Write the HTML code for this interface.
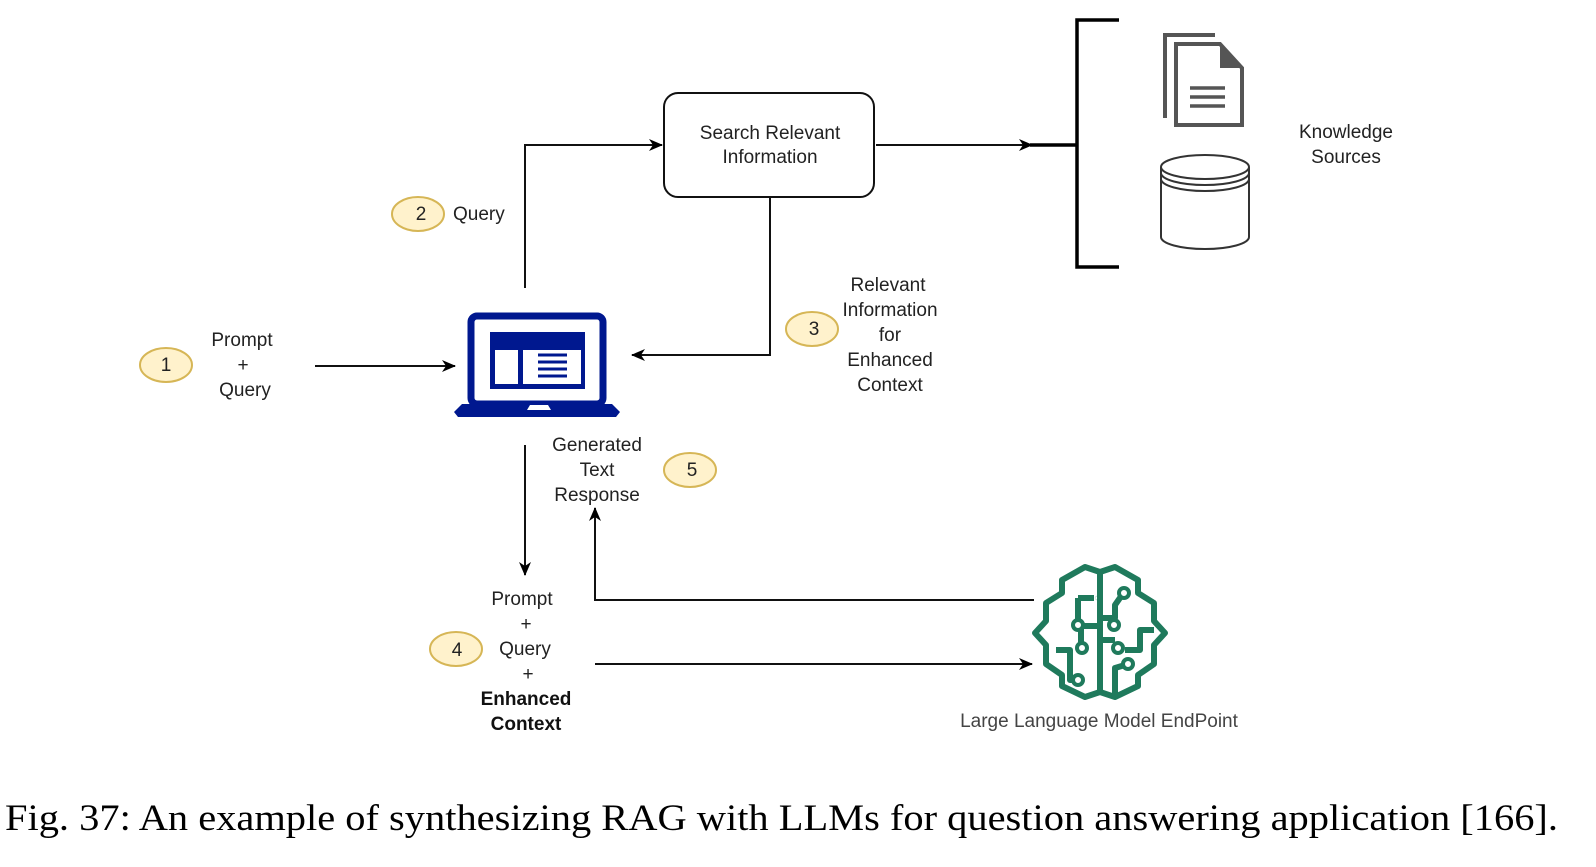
<!DOCTYPE html>
<html><head><meta charset="utf-8"><style>
html,body{margin:0;padding:0;background:#fff;}
svg{display:block;}
text{font-family:"Liberation Sans",Arial,sans-serif;font-size:19px;fill:#222;}
</style></head><body>
<svg width="1596" height="867" viewBox="0 0 1596 867" xmlns="http://www.w3.org/2000/svg">
<defs>
<marker id="ar" markerWidth="14" markerHeight="12" refX="13" refY="6" orient="auto" markerUnits="userSpaceOnUse">
<path d="M0,0 L14,6 L0,12 L4,6 z" fill="#000"/>
</marker>
</defs>
<g stroke="#111" stroke-width="2" fill="none">
<line x1="315" y1="366" x2="455" y2="366" marker-end="url(#ar)"/>
<polyline points="525,288 525,145 662,145" marker-end="url(#ar)"/>
<line x1="876" y1="145" x2="1032" y2="145" marker-end="url(#ar)"/>
<polyline points="770,198 770,355 632,355" marker-end="url(#ar)"/>
<line x1="525" y1="445" x2="525" y2="575" marker-end="url(#ar)"/>
<polyline points="1034,600 595,600 595,508" marker-end="url(#ar)"/>
<line x1="595" y1="664" x2="1032" y2="664" marker-end="url(#ar)"/>
</g>
<rect x="664" y="93" width="210" height="104" rx="14" fill="#fff" stroke="#111" stroke-width="2"/>
<text x="770" y="139" text-anchor="middle">Search Relevant</text>
<text x="770" y="163" text-anchor="middle">Information</text>
<!-- bracket -->
<g stroke="#000" stroke-width="3.5" fill="none">
<line x1="1030" y1="145" x2="1077" y2="145"/>
<polyline points="1119,20 1077,20 1077,267 1119,267"/>
</g>
<!-- docs -->
<g fill="none" stroke="#555" stroke-width="4">
<polyline points="1165,118 1165,35 1215,35"/>
<path d="M1176,125 L1176,44 L1220,44 L1242,68 L1242,125 Z" fill="#fff"/>
</g>
<path d="M1220,44 L1242,68 L1220,68 Z" fill="#555"/>
<g stroke="#555" stroke-width="3.5"><line x1="1190" y1="88" x2="1225" y2="88"/><line x1="1190" y1="97" x2="1225" y2="97"/><line x1="1190" y1="106" x2="1225" y2="106"/></g>
<!-- db -->
<g fill="#fff" stroke="#333" stroke-width="2">
<path d="M1161,167 L1161,237 A44,12 0 0 0 1249,237 L1249,167"/>
<ellipse cx="1205" cy="167" rx="44" ry="12"/>
<path d="M1161,173 A44,12 0 0 0 1249,173" fill="none"/>
<path d="M1161,179 A44,12 0 0 0 1249,179" fill="none"/>
</g>
<text x="1346" y="138" text-anchor="middle">Knowledge</text>
<text x="1346" y="163" text-anchor="middle">Sources</text>
<!-- laptop -->
<rect x="471" y="316" width="132" height="88" rx="6" fill="none" stroke="#00188f" stroke-width="7"/>
<path d="M462,404 L612,404 L620,412 L616,417 L458,417 L454,412 Z" fill="#00188f"/>
<path d="M530,405 L548,405 L551,410 L527,410 Z" fill="#fff"/>
<rect x="490" y="332" width="95" height="57" fill="#00188f"/>
<rect x="495" y="350" width="23" height="34" fill="#fff"/>
<rect x="523" y="350" width="58" height="34" fill="#fff"/>
<g stroke="#00188f" stroke-width="3"><line x1="538" y1="355" x2="567" y2="355"/><line x1="538" y1="362" x2="567" y2="362"/><line x1="538" y1="369" x2="567" y2="369"/><line x1="538" y1="376" x2="567" y2="376"/></g>
<!-- brain -->
<g fill="none" stroke="#1f7a5c" stroke-width="6" stroke-linejoin="round">
<polygon points="1100,572 1085,567 1062,580 1062,593 1046,603 1046,621 1035,633 1046,645 1046,664 1062,675 1062,686 1085,697 1100,692 1115,697 1138,686 1138,675 1154,664 1154,645 1165,633 1154,621 1154,603 1138,593 1138,580 1115,567"/>
<line x1="1100" y1="572" x2="1100" y2="692"/>
<polyline points="1078,598 1078,620"/><polyline points="1078,598 1094,598"/>
<polyline points="1100,626 1081,626 1081,645"/>
<polyline points="1056,650 1070,650 1070,680 1080,680"/>
<polyline points="1100,618 1115,618 1115,605 1122,595"/>
<polyline points="1100,640 1115,640"/>
<polyline points="1154,630 1140,630 1140,650 1125,650"/>
<polyline points="1115,695 1115,668 1125,665"/>
</g>
<g fill="#fff" stroke="#1f7a5c" stroke-width="4">
<circle cx="1078" cy="625" r="5"/><circle cx="1097" cy="598" r="0.1"/><circle cx="1078" cy="680" r="5"/><circle cx="1082" cy="648" r="5"/>
<circle cx="1124" cy="593" r="5"/><circle cx="1114" cy="625" r="5"/><circle cx="1118" cy="648" r="5"/><circle cx="1128" cy="664" r="5"/>
</g>
<text x="1099" y="727" text-anchor="middle" style="fill:#444">Large Language Model EndPoint</text>
<!-- ellipses -->
<g fill="#fff2cc" stroke="#d6b656" stroke-width="2">
<ellipse cx="166" cy="365" rx="26" ry="17"/>
<ellipse cx="418" cy="214" rx="26" ry="17"/>
<ellipse cx="812" cy="329" rx="26" ry="17"/>
<ellipse cx="456" cy="649" rx="26" ry="17"/>
<ellipse cx="690" cy="470" rx="26" ry="17"/>
</g>
<g text-anchor="middle">
<text x="166" y="371">1</text><text x="421" y="220">2</text><text x="814" y="335">3</text><text x="457" y="656">4</text><text x="692" y="476">5</text>
<text x="242" y="346">Prompt</text><text x="243" y="371">+</text><text x="245" y="396">Query</text>
<text x="888" y="291">Relevant</text><text x="890" y="316">Information</text><text x="890" y="341">for</text><text x="890" y="366">Enhanced</text><text x="890" y="391">Context</text>
<text x="597" y="451">Generated</text><text x="597" y="476">Text</text><text x="597" y="501">Response</text>
<text x="522" y="605">Prompt</text><text x="526" y="630">+</text><text x="525" y="655">Query</text><text x="528" y="680">+</text>
<text x="526" y="705" font-weight="bold" style="fill:#111">Enhanced</text><text x="526" y="730" font-weight="bold" style="fill:#111">Context</text>
</g>
<text x="453" y="220">Query</text>
<text x="5" y="830" style="font-family:'Liberation Serif','Times New Roman',serif;font-size:36.5px;fill:#000" textLength="1553" lengthAdjust="spacingAndGlyphs">Fig. 37: An example of synthesizing RAG with LLMs for question answering application [166].</text>
</svg>
</body></html>
